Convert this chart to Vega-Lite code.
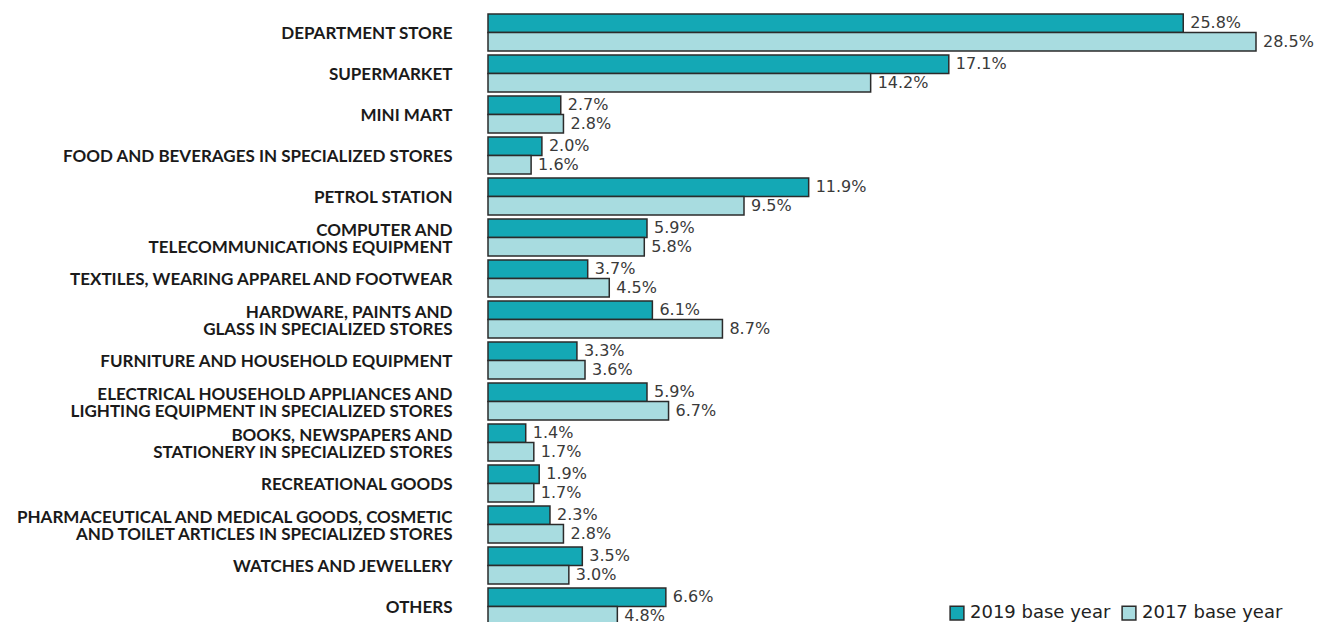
{
  "$schema": "https://vega.github.io/schema/vega-lite/v6.json",
  "autosize": "none",
  "padding": {"left": 488, "top": 12, "right": 0, "bottom": 0},
  "width": 840,
  "height": 615,
  "background": "white",
  "config": {"view": {"stroke": null}},
  "data": {"values": [
    {"cat": "DEPARTMENT STORE", "series": "2019 base year", "v": 25.8},
    {"cat": "DEPARTMENT STORE", "series": "2017 base year", "v": 28.5},
    {"cat": "SUPERMARKET", "series": "2019 base year", "v": 17.1},
    {"cat": "SUPERMARKET", "series": "2017 base year", "v": 14.2},
    {"cat": "MINI MART", "series": "2019 base year", "v": 2.7},
    {"cat": "MINI MART", "series": "2017 base year", "v": 2.8},
    {"cat": "FOOD AND BEVERAGES IN SPECIALIZED STORES", "series": "2019 base year", "v": 2.0},
    {"cat": "FOOD AND BEVERAGES IN SPECIALIZED STORES", "series": "2017 base year", "v": 1.6},
    {"cat": "PETROL STATION", "series": "2019 base year", "v": 11.9},
    {"cat": "PETROL STATION", "series": "2017 base year", "v": 9.5},
    {"cat": "COMPUTER AND|TELECOMMUNICATIONS EQUIPMENT", "series": "2019 base year", "v": 5.9},
    {"cat": "COMPUTER AND|TELECOMMUNICATIONS EQUIPMENT", "series": "2017 base year", "v": 5.8},
    {"cat": "TEXTILES, WEARING APPAREL AND FOOTWEAR", "series": "2019 base year", "v": 3.7},
    {"cat": "TEXTILES, WEARING APPAREL AND FOOTWEAR", "series": "2017 base year", "v": 4.5},
    {"cat": "HARDWARE, PAINTS AND|GLASS IN SPECIALIZED STORES", "series": "2019 base year", "v": 6.1},
    {"cat": "HARDWARE, PAINTS AND|GLASS IN SPECIALIZED STORES", "series": "2017 base year", "v": 8.7},
    {"cat": "FURNITURE AND HOUSEHOLD EQUIPMENT", "series": "2019 base year", "v": 3.3},
    {"cat": "FURNITURE AND HOUSEHOLD EQUIPMENT", "series": "2017 base year", "v": 3.6},
    {"cat": "ELECTRICAL HOUSEHOLD APPLIANCES AND|LIGHTING EQUIPMENT IN SPECIALIZED STORES", "series": "2019 base year", "v": 5.9},
    {"cat": "ELECTRICAL HOUSEHOLD APPLIANCES AND|LIGHTING EQUIPMENT IN SPECIALIZED STORES", "series": "2017 base year", "v": 6.7},
    {"cat": "BOOKS, NEWSPAPERS AND|STATIONERY IN SPECIALIZED STORES", "series": "2019 base year", "v": 1.4},
    {"cat": "BOOKS, NEWSPAPERS AND|STATIONERY IN SPECIALIZED STORES", "series": "2017 base year", "v": 1.7},
    {"cat": "RECREATIONAL GOODS", "series": "2019 base year", "v": 1.9},
    {"cat": "RECREATIONAL GOODS", "series": "2017 base year", "v": 1.7},
    {"cat": "PHARMACEUTICAL AND MEDICAL GOODS, COSMETIC|AND TOILET ARTICLES IN SPECIALIZED STORES", "series": "2019 base year", "v": 2.3},
    {"cat": "PHARMACEUTICAL AND MEDICAL GOODS, COSMETIC|AND TOILET ARTICLES IN SPECIALIZED STORES", "series": "2017 base year", "v": 2.8},
    {"cat": "WATCHES AND JEWELLERY", "series": "2019 base year", "v": 3.5},
    {"cat": "WATCHES AND JEWELLERY", "series": "2017 base year", "v": 3.0},
    {"cat": "OTHERS", "series": "2019 base year", "v": 6.6},
    {"cat": "OTHERS", "series": "2017 base year", "v": 4.8}
  ]},
  "encoding": {
    "y": {
      "field": "cat", "type": "nominal", "sort": null, "title": null,
      "scale": {"paddingInner": 0.1, "paddingOuter": 0.05},
      "axis": {
        "domain": false, "ticks": false, "labelPadding": 36,
        "labelExpr": "split(datum.label, '|')",
        "labelOffset": {"condition": {"test": "indexof(datum.label, '|') >= 0", "value": -7}, "value": 1.5},
        "labelFont": "Lato", "labelFontWeight": "bold", "labelFontSize": 17,
        "labelColor": "#1a1a1a", "labelLineHeight": 17, "labelLimit": 480
      }
    },
    "yOffset": {"field": "series", "type": "nominal", "sort": ["2019 base year", "2017 base year"]},
    "x": {
      "field": "v", "type": "quantitative", "title": null, "axis": null,
      "scale": {"domain": [0, 28.5], "range": [0, 768], "nice": false, "zero": true}
    }
  },
  "layer": [
    {
      "mark": {"type": "bar", "stroke": "#2b2b2b", "strokeWidth": 1.5},
      "encoding": {
        "color": {
          "field": "series", "type": "nominal", "sort": ["2019 base year", "2017 base year"],
          "scale": {"domain": ["2019 base year", "2017 base year"], "range": ["#14A8B5", "#A8DCE0"]},
          "legend": {
            "title": null, "orient": "none", "direction": "horizontal",
            "legendX": 460, "legendY": 592,
            "symbolType": "square", "symbolSize": 190, "symbolStrokeColor": "#2b2b2b", "symbolStrokeWidth": 1.5,
            "labelFont": "DejaVu Sans", "labelFontSize": 18, "labelColor": "#222", "columnPadding": 8, "labelOffset": 4
          }
        }
      }
    },
    {
      "transform": [{"calculate": "format(datum.v, '.1f') + '%'", "as": "lbl"}],
      "mark": {"type": "text", "align": "left", "baseline": "middle", "dx": 7, "font": "DejaVu Sans", "fontSize": 16, "color": "#3a3a3a"},
      "encoding": {
        "text": {"field": "lbl", "type": "nominal"}
      }
    }
  ]
}
